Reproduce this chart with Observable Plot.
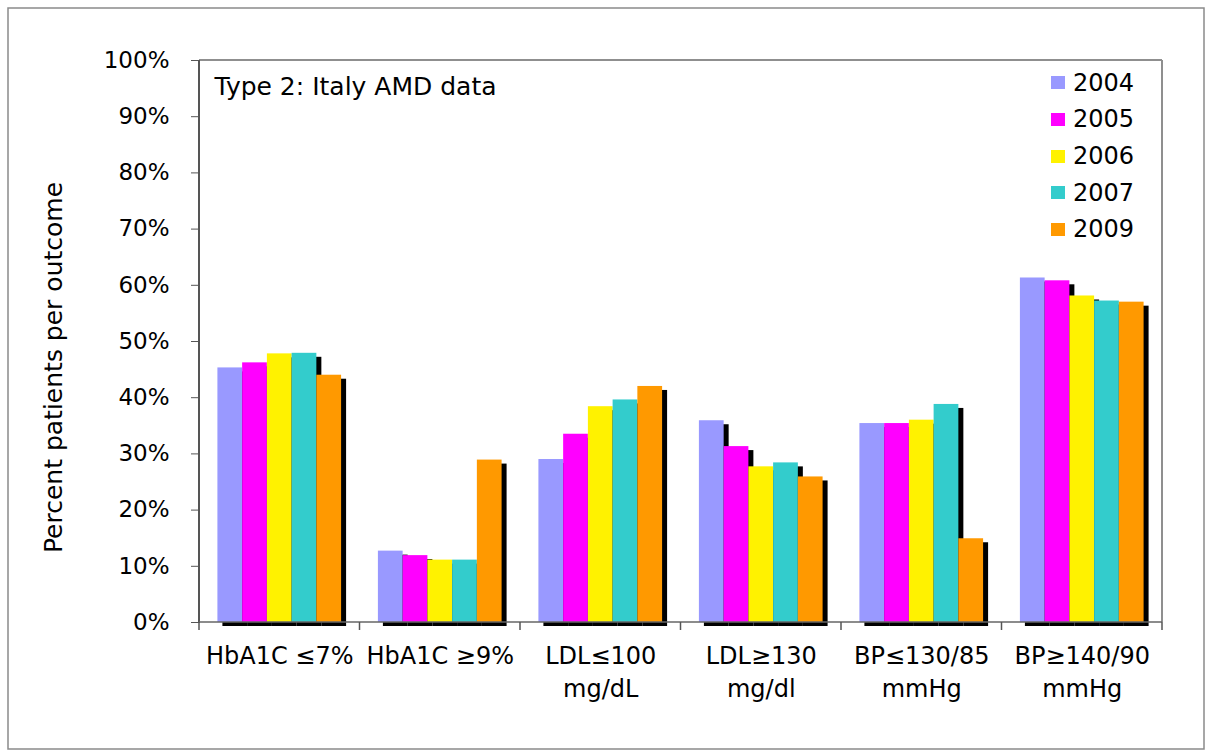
<!DOCTYPE html>
<html>
<head>
<meta charset="utf-8">
<script src="https://cdn.jsdelivr.net/npm/d3@7"></script>
<script src="https://cdn.jsdelivr.net/npm/@observablehq/plot@0.6"></script>
<style>
  html, body { margin: 0; padding: 0; background: #fff; }
  #wrap { position: relative; width: 1210px; height: 756px; font-family: "DejaVu Sans", Verdana, sans-serif; }
  #legend { position: absolute; left: 1051px; top: 64.6px; }
  .lrow { display: flex; align-items: center; height: 36.6px; font-size: 24px; color: #000; }
  .lsw { width: 14px; height: 13px; margin-right: 8px; }
</style>
</head>
<body>
<div id="wrap"><div id="legend"></div></div>
<script>
const categories = ["HbA1C ≤7%", "HbA1C ≥9%", "LDL≤100\nmg/dL", "LDL≥130\nmg/dl", "BP≤130/85\nmmHg", "BP≥140/90\nmmHg"];
const years = ["2004", "2005", "2006", "2007", "2009"];
const v2004 = [45.3, 12.7, 29.0, 35.9, 35.4, 61.3];
const v2005 = [46.2, 11.9, 33.5, 31.3, 35.4, 60.8];
const v2006 = [47.8, 11.1, 38.4, 27.7, 36.0, 58.1];
const v2007 = [47.9, 11.1, 39.6, 28.4, 38.8, 57.2];
const v2009 = [44.0, 28.9, 42.0, 25.9, 14.9, 57.0];
const colors = ["#9999ff", "#ff00ff", "#fff200", "#33cccc", "#ff9900"];
const yTicks = [0, 10, 20, 30, 40, 50, 60, 70, 80, 90, 100];
const annotation = "Type 2: Italy AMD data";
const yLabel = "Percent patients per outcome";

const series = [v2004, v2005, v2006, v2007, v2009];
const data = [];
categories.forEach((c, i) => years.forEach((y, j) => data.push({cat: c, year: y, value: series[j][i]})));

const chart = Plot.plot({
  width: 1210,
  height: 756,
  marginLeft: 199,
  marginRight: 48,
  marginTop: 60,
  marginBottom: 134,
  style: {fontFamily: "DejaVu Sans, Verdana, sans-serif", fontSize: "23px", color: "#000", background: "#fff"},
  fx: {domain: categories, paddingInner: 0, paddingOuter: 0, round: false, axis: null, label: null},
  x: {domain: years, paddingInner: 0, paddingOuter: 0.744, round: false, axis: null, label: null},
  y: {domain: [0, 100], axis: null, label: null},
  color: {domain: years, range: colors},
  marks: [
    Plot.barY(data, {fx: "cat", x: "year", y: "value", fill: "#000", dx: 5, dy: 4}),
    Plot.barY(data, {fx: "cat", x: "year", y: "value", fill: "year"}),
    Plot.axisY({ticks: yTicks, tickFormat: d => d + "%", tickSize: 8, tickPadding: 22, fontSize: 23, stroke: "#555", fill: "#000", label: null}),
    Plot.text(categories, {fx: d => d, text: d => d, frameAnchor: "bottom", lineAnchor: "top", dy: 18, fontSize: 24, lineHeight: 1.38, fill: "#000"}),
    Plot.text([annotation], {fx: () => categories[0], text: d => d, frameAnchor: "top-left", textAnchor: "start", lineAnchor: "middle", dx: 15, dy: 26, fontSize: 25, fill: "#000"}),
    Plot.text([yLabel], {fx: () => categories[0], text: d => d, frameAnchor: "left", rotate: -90, lineAnchor: "middle", textAnchor: "middle", dx: -146, dy: 26, fontSize: 25, fill: "#000"})
  ]
});

document.getElementById("wrap").prepend(chart);

const svg = d3.select(chart);
const fxs = chart.scale("fx");
const ys = chart.scale("y");
const x0 = fxs.range[0], x1 = fxs.range[1];
const yb = ys.apply(0), yt = ys.apply(100);

svg.append("rect").attr("x", 8).attr("y", 8).attr("width", 1196).attr("height", 741)
  .attr("fill", "none").attr("stroke", "#8a8a8a").attr("stroke-width", 1.5);

const g = svg.append("g");
g.append("line").attr("x1", x0).attr("x2", x1).attr("y1", yt).attr("y2", yt).attr("stroke", "#8f8f8f").attr("stroke-width", 2);
g.append("line").attr("x1", x1).attr("x2", x1).attr("y1", yt).attr("y2", yb).attr("stroke", "#8f8f8f").attr("stroke-width", 2);
g.append("line").attr("x1", x0).attr("x2", x0).attr("y1", yt).attr("y2", yb + 1).attr("stroke", "#555").attr("stroke-width", 2);
g.append("line").attr("x1", x0).attr("x2", x1).attr("y1", yb).attr("y2", yb).attr("stroke", "#666").attr("stroke-width", 1.5);
const bounds = categories.map(c => fxs.apply(c)).concat([x1]);
bounds.forEach(b => {
  g.append("line").attr("x1", b).attr("x2", b).attr("y1", yb).attr("y2", yb + 8).attr("stroke", "#555").attr("stroke-width", 1.5);
});

const color = chart.scale("color");
const legend = d3.select("#legend");
years.forEach(y => {
  const row = legend.append("div").attr("class", "lrow");
  row.append("div").attr("class", "lsw").style("background", color.apply(y));
  row.append("span").text(y);
});
</script>
</body>
</html>
